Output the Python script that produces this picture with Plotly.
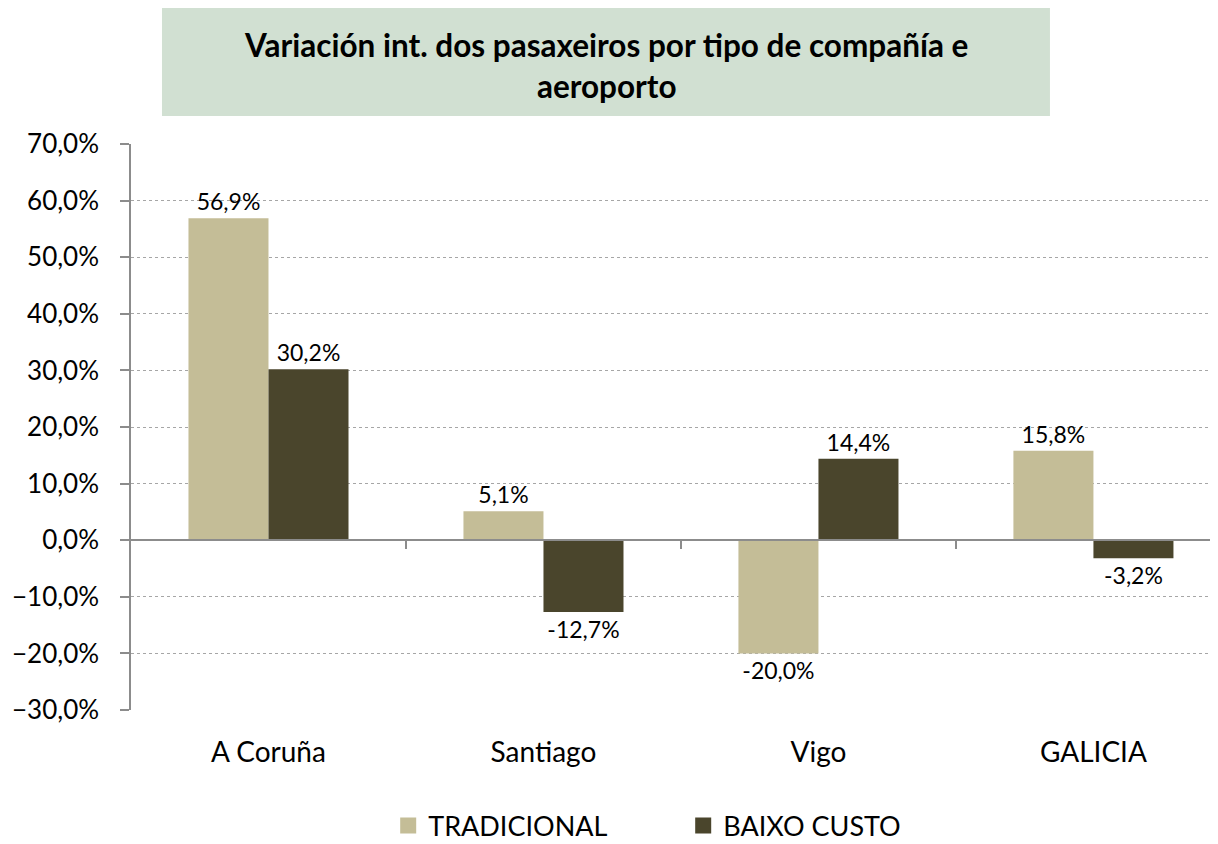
import plotly.graph_objects as go

categories = ["A Coruña", "Santiago", "Vigo", "GALICIA"]
tradicional = [56.9, 5.1, -20.0, 15.8]
baixo_custo = [30.2, -12.7, 14.4, -3.2]
series_names = ["TRADICIONAL", "BAIXO CUSTO"]
title_text = "Variación int. dos pasaxeiros por tipo de compañía e<br>aeroporto"

FONT = "Lato"
C_TRAD = "#c4bd97"
C_BAIXO = "#4a452c"
AXIS_C = "#8c8c8c"

fig = go.Figure()
for name, vals, col in [(series_names[0], tradicional, C_TRAD),
                        (series_names[1], baixo_custo, C_BAIXO)]:
    fig.add_trace(go.Bar(
        x=list(range(len(categories))), y=vals, name=name,
        marker=dict(color=col, line=dict(width=0)),
        texttemplate="%{y:.1f}%", textposition="outside",
        textfont=dict(family=FONT, size=23, color="#000000"),
        cliponaxis=False, showlegend=False,
    ))

# legend entries with larger square symbols
for name, col in [(series_names[0], C_TRAD), (series_names[1], C_BAIXO)]:
    fig.add_trace(go.Scatter(x=[None], y=[None], mode="markers", name=name,
                             marker=dict(symbol="square", size=18, color=col),
                             showlegend=True, hoverinfo="skip"))

# page body adds an 8px margin, so the figure is 16px smaller than the window
fig.update_layout(
    width=1210, height=836,
    margin=dict(l=123, r=0, t=136, b=134, autoexpand=False),
    paper_bgcolor="white", plot_bgcolor="white",
    separators=",.",
    barmode="group", bargap=0.418, bargroupgap=0,
    font=dict(family=FONT, color="#000000"),
    showlegend=True,
    legend=dict(orientation="h", x=0.508, xanchor="center", y=-0.205, yanchor="middle",
                font=dict(family=FONT, size=27), entrywidth=250, itemwidth=30,
                traceorder="normal"),
    xaxis=dict(
        range=[-0.5, 3.453], tickmode="array",
        tickvals=list(range(len(categories))), ticktext=categories,
        showline=False, ticks="", showgrid=False, zeroline=False,
        tickfont=dict(family=FONT, size=28), ticklabelstandoff=23,
        automargin=False,
    ),
    xaxis2=dict(
        overlaying="x", anchor="free", position=0.3, side="bottom",
        range=[-0.5, 3.453], tickmode="array", tickvals=[0.5, 1.5, 2.5],
        showticklabels=False, ticks="outside", ticklen=8, tickcolor=AXIS_C, tickwidth=1.5,
        showline=True, linecolor=AXIS_C, linewidth=1.5, showgrid=False, zeroline=False,
        automargin=False,
    ),
    yaxis=dict(
        range=[-30, 70], tickmode="linear", tick0=-30, dtick=10,
        tickformat=".1f", ticksuffix="%",
        showline=True, linecolor=AXIS_C, linewidth=1.5,
        ticks="outside", ticklen=9, tickcolor=AXIS_C, tickwidth=1.5,
        showgrid=True, gridcolor="#a6a6a6", griddash="dot", gridwidth=1,
        zeroline=False, automargin=False,
        tickfont=dict(family=FONT, size=26), ticklabelstandoff=16,
    ),
)

fig.add_trace(go.Scatter(x=[0.5], y=[0], xaxis="x2", mode="markers",
                         marker=dict(opacity=0), showlegend=False, hoverinfo="skip"))

fig.add_shape(type="rect", xref="paper", yref="paper",
              x0=0.0285, x1=0.8454, y0=1.0495, y1=1.2438,
              fillcolor="#d1e0d2", line=dict(width=0), layer="below")
fig.add_annotation(text="<b>" + title_text + "</b>", xref="paper", yref="paper",
                   x=0.437, y=1.138, xanchor="center", yanchor="middle",
                   showarrow=False, font=dict(family=FONT, size=31.5, color="#000000"))

fig.write_html("out.html")
